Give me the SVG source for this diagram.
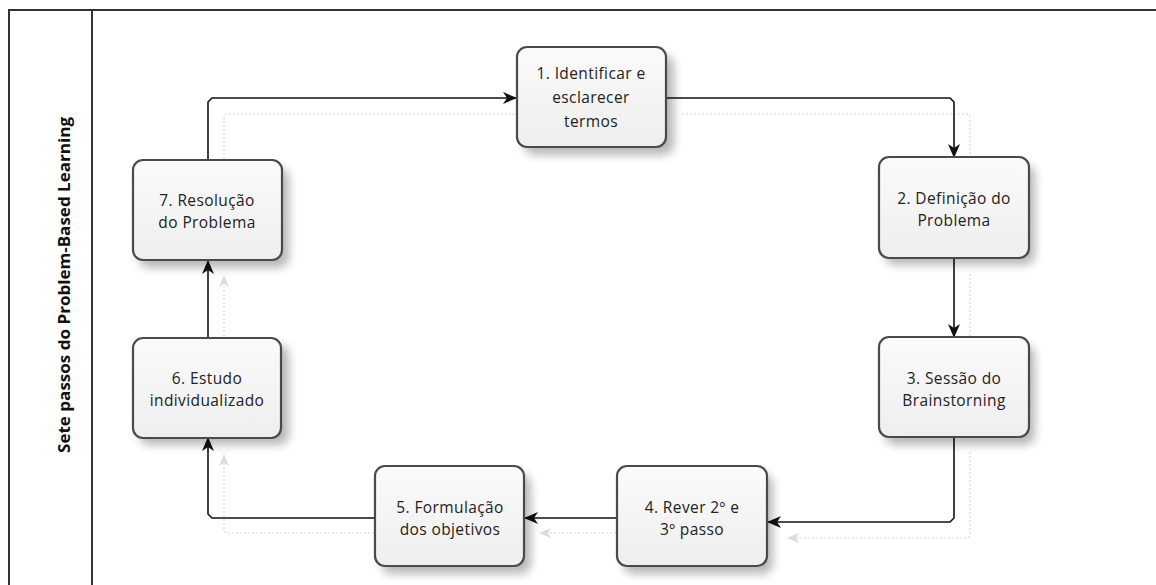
<svg xmlns="http://www.w3.org/2000/svg" width="1156" height="585" viewBox="0 0 1156 585">
<style>
.frame{fill:none;stroke:#333;stroke-width:2}
.box{fill:url(#g);stroke:#4a4a4a;stroke-width:2.2}
.sh{fill:#000;opacity:0.28;filter:url(#blur)}
.lbl{font-family:"Open Sans","DejaVu Sans",sans-serif;font-size:15.5px;letter-spacing:0.4px;fill:#222;text-anchor:middle}
.title{font-family:"Open Sans","DejaVu Sans",sans-serif;font-size:16px;font-weight:bold;fill:#111;text-anchor:middle}
.c{fill:none;stroke:#111;stroke-width:1.6}
.f{fill:none;stroke:#d6d6d6;stroke-width:1.2;stroke-dasharray:2 2}
</style>
<defs>
<linearGradient id="g" x1="0" y1="0" x2="0" y2="1"><stop offset="0" stop-color="#fbfbfb"/><stop offset="1" stop-color="#eeeeee"/></linearGradient>
<filter id="blur" x="-20%" y="-20%" width="140%" height="140%"><feGaussianBlur stdDeviation="5"/></filter>
<marker id="a" markerWidth="14" markerHeight="12" refX="13" refY="6" orient="auto" markerUnits="userSpaceOnUse"><path d="M0,0 L14,6 L0,12 L4,6 Z" fill="#111"/></marker>
<marker id="fa" markerWidth="12" markerHeight="10" refX="11" refY="5" orient="auto" markerUnits="userSpaceOnUse"><path d="M0,0 L12,5 L0,10 L3,5 Z" fill="#ddd"/></marker>
</defs>
<rect width="1156" height="585" fill="#fff"/>
<path class="frame" d="M9,585 V10 H1156 M92,10 V585"/>
<text class="title" transform="translate(70,285) rotate(-90)" textLength="336" lengthAdjust="spacingAndGlyphs">Sete passos do Problem-Based Learning</text>
<g id="connectors">
<path class="f" d="M224,255 V118 Q224,114 228,114 H528" marker-end="url(#fa)"/>
<path class="f" d="M682,114 H966 Q970,114 970,118 V172"/>
<path class="f" d="M970,274 V350"/>
<path class="f" d="M970,452 V534 Q970,538 966,538 H788" marker-end="url(#fa)"/>
<path class="f" d="M632,533 H540" marker-end="url(#fa)"/>
<path class="f" d="M390,533 H228 Q224,533 224,529 V455" marker-end="url(#fa)"/>
<path class="f" d="M224,352 V276" marker-end="url(#fa)"/>
<path class="c" d="M208,160 V102 L212,98 H516" marker-end="url(#a)"/>
<path class="c" d="M666,98 H950 L954,102 V157" marker-end="url(#a)"/>
<path class="c" d="M954,258 V337" marker-end="url(#a)"/>
<path class="c" d="M954,437 V518 L950,522 H768" marker-end="url(#a)"/>
<path class="c" d="M617,518 H525" marker-end="url(#a)"/>
<path class="c" d="M375,518 H212 L208,514 V438" marker-end="url(#a)"/>
<path class="c" d="M208,337 V261" marker-end="url(#a)"/>
</g>
<g id="n1"><rect class="sh" x="524" y="55" width="150" height="100" rx="10"/><rect class="box" x="517" y="47" width="149" height="100" rx="10"/><text class="lbl" x="591" y="79">1. Identificar e</text><text class="lbl" x="591" y="103">esclarecer</text><text class="lbl" x="591" y="127">termos</text></g>
<g id="n2"><rect class="sh" x="885" y="165" width="150" height="100" rx="10"/><rect class="box" x="879" y="157" width="150" height="101" rx="10"/><text class="lbl" x="954" y="204">2. Definição do</text><text class="lbl" x="954" y="226">Problema</text></g>
<g id="n3"><rect class="sh" x="885" y="345" width="150" height="100" rx="10"/><rect class="box" x="879" y="337" width="150" height="100" rx="10"/><text class="lbl" x="954" y="384">3. Sessão do</text><text class="lbl" x="954" y="406">Brainstorning</text></g>
<g id="n4"><rect class="sh" x="623" y="474" width="150" height="100" rx="10"/><rect class="box" x="617" y="466" width="150" height="100" rx="10"/><text class="lbl" x="692" y="513">4. Rever 2º e</text><text class="lbl" x="692" y="535">3º passo</text></g>
<g id="n5"><rect class="sh" x="381" y="474" width="150" height="100" rx="10"/><rect class="box" x="375" y="466" width="149" height="100" rx="10"/><text class="lbl" x="450" y="513">5. Formulação</text><text class="lbl" x="450" y="535">dos objetivos</text></g>
<g id="n6"><rect class="sh" x="139" y="345" width="150" height="100" rx="10"/><rect class="box" x="133" y="338" width="148" height="100" rx="10"/><text class="lbl" x="207" y="384">6. Estudo</text><text class="lbl" x="207" y="406">individualizado</text></g>
<g id="n7"><rect class="sh" x="139" y="168" width="150" height="100" rx="10"/><rect class="box" x="133" y="160" width="149" height="100" rx="10"/><text class="lbl" x="207" y="206">7. Resolução</text><text class="lbl" x="207" y="228">do Problema</text></g>
</svg>
